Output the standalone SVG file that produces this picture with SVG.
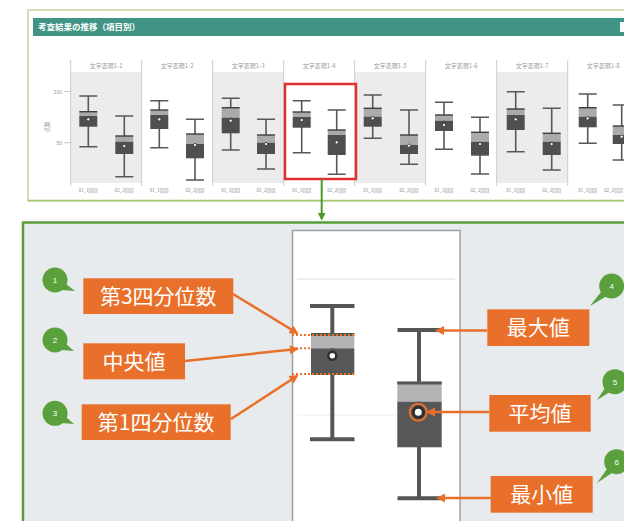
<svg xmlns="http://www.w3.org/2000/svg" width="624" height="521" viewBox="0 0 624 521">
<defs>
<style>
.wh{stroke:#5e5652;stroke-width:1.6;fill:none}
.lt{fill:#aaaaaa}
.dk{fill:#4f4f4f}
.tp{stroke:#3e3e3e;stroke-width:1.4}
.mn{fill:#fff;stroke:#333;stroke-width:0.8}
.hd{font-family:"Noto Sans CJK JP","Liberation Sans",sans-serif;font-size:6px;fill:#9a9a9a;text-anchor:middle}
.xl{font-family:"Noto Sans CJK JP","Liberation Sans",sans-serif;font-size:4.5px;fill:#888;text-anchor:middle}
.lbl{fill:#e8702a}
.lt2{font-family:"Noto Sans CJK JP",sans-serif;font-size:21px;fill:#fff;text-anchor:middle}
.arr{stroke:#e8702a;stroke-width:2.5;fill:none;marker-end:url(#ah)}
.bub{fill:#5aa03c}
.bn{font-family:"Liberation Sans",sans-serif;font-size:8px;fill:#fff;text-anchor:middle}
.bw{stroke:#555;stroke-width:4;fill:none}
.dot{stroke:#e8702a;stroke-width:2;stroke-dasharray:2 2;fill:none}
</style>
<marker id="ah" viewBox="0 0 10 10" refX="8" refY="5" markerWidth="9" markerHeight="9" markerUnits="userSpaceOnUse" orient="auto">
<path d="M0,0 L10,5 L0,10 z" fill="#e8702a"/>
</marker>
<marker id="gh" viewBox="0 0 10 10" refX="8" refY="5" markerWidth="8" markerHeight="8" markerUnits="userSpaceOnUse" orient="auto">
<path d="M0,0 L10,5 L0,10 z" fill="#4a9a2e"/>
</marker>
</defs>
<rect width="624" height="521" fill="#ffffff"/>

<g id="top-panel">
<rect x="28" y="10" width="600" height="191" fill="#ffffff" stroke="#c4d49c" stroke-width="1.5"/>
<line x1="28" y1="200.5" x2="624" y2="200.5" stroke="#a9c878" stroke-width="1.5"/>
<rect x="33" y="18" width="595" height="18" fill="#3f9484"/>
<text x="38" y="30" font-family="Noto Sans CJK JP,sans-serif" font-size="8.5" font-weight="bold" fill="#ffffff">考査結果の推移（項目別）</text>
<rect x="620" y="22" width="6" height="10" fill="#ffffff"/>
<rect x="70.7" y="72" width="71" height="111" fill="#ececec"/>
<rect x="212.7" y="72" width="71" height="111" fill="#ececec"/>
<rect x="354.7" y="72" width="71" height="111" fill="#ececec"/>
<rect x="496.7" y="72" width="71" height="111" fill="#ececec"/>
<g stroke="#cccccc" stroke-width="1">
<line x1="70.7" y1="60" x2="70.7" y2="186"/>
<line x1="141.7" y1="60" x2="141.7" y2="186"/>
<line x1="212.7" y1="60" x2="212.7" y2="186"/>
<line x1="283.7" y1="60" x2="283.7" y2="186"/>
<line x1="354.7" y1="60" x2="354.7" y2="186"/>
<line x1="425.7" y1="60" x2="425.7" y2="186"/>
<line x1="496.7" y1="60" x2="496.7" y2="186"/>
<line x1="567.7" y1="60" x2="567.7" y2="186"/>
</g>
<text class="hd" x="106.2" y="68">文字表現1-1</text>
<text class="hd" x="177.2" y="68">文字表現1-2</text>
<text class="hd" x="248.2" y="68">文字表現1-3</text>
<text class="hd" x="319.2" y="68">文字表現1-4</text>
<text class="hd" x="390.2" y="68">文字表現1-5</text>
<text class="hd" x="461.2" y="68">文字表現1-6</text>
<text class="hd" x="532.2" y="68">文字表現1-7</text>
<text class="hd" x="603.2" y="68">文字表現1-8</text>
<g stroke="#bbbbbb" stroke-width="0.8">
<line x1="64" y1="91.5" x2="70.7" y2="91.5"/>
<line x1="64" y1="142.7" x2="70.7" y2="142.7"/>
</g>
<text x="62" y="93.5" font-family="Liberation Sans,sans-serif" font-size="5" fill="#999" text-anchor="end">100</text>
<text x="62" y="144.5" font-family="Liberation Sans,sans-serif" font-size="5" fill="#999" text-anchor="end">50</text>
<text x="0" y="0" font-family="Noto Sans CJK JP,sans-serif" font-size="5.5" fill="#999" text-anchor="middle" transform="translate(49,127) rotate(-90)">点数</text>
<g>
<text class="xl" x="88.3" y="192">01_1回目</text><text class="xl" x="124.3" y="192">02_2回目</text>
<text class="xl" x="159.3" y="192">01_1回目</text><text class="xl" x="195" y="192">02_2回目</text>
<text class="xl" x="230.7" y="192">01_1回目</text><text class="xl" x="266" y="192">02_2回目</text>
<text class="xl" x="301.7" y="192">01_1回目</text><text class="xl" x="336.7" y="192">02_2回目</text>
<text class="xl" x="372.7" y="192">01_1回目</text><text class="xl" x="409" y="192">02_2回目</text>
<text class="xl" x="444" y="192">01_1回目</text><text class="xl" x="480" y="192">02_2回目</text>
<text class="xl" x="515.7" y="192">01_1回目</text><text class="xl" x="551.7" y="192">02_2回目</text>
<text class="xl" x="587.7" y="192">01_1回目</text><text class="xl" x="623" y="192" style="text-anchor:end">02_2回目</text>
</g>
</g>

<g id="top-boxplots">
<g><path class="wh" d="M88.3,96V146.7M79.3,96H97.3M79.3,146.7H97.3"/><rect class="lt" x="79.3" y="111.7" width="18" height="4.3"/><rect class="dk" x="79.3" y="116" width="18" height="10.7"/><line class="tp" x1="79.3" y1="111.7" x2="97.3" y2="111.7"/><circle class="mn" cx="88.3" cy="119.3" r="1.6"/></g>
<g><path class="wh" d="M124.3,116V176.7M115.3,116H133.3M115.3,176.7H133.3"/><rect class="lt" x="115.3" y="136" width="18" height="5.7"/><rect class="dk" x="115.3" y="141.7" width="18" height="12.3"/><line class="tp" x1="115.3" y1="136" x2="133.3" y2="136"/><circle class="mn" cx="124.3" cy="146" r="1.6"/></g>
<g><path class="wh" d="M159.3,100.7V147.7M150.3,100.7H168.3M150.3,147.7H168.3"/><rect class="lt" x="150.3" y="110" width="18" height="5"/><rect class="dk" x="150.3" y="115" width="18" height="14"/><line class="tp" x1="150.3" y1="110" x2="168.3" y2="110"/><circle class="mn" cx="159.3" cy="119.3" r="1.6"/></g>
<g><path class="wh" d="M195,119.3V180M186,119.3H204M186,180H204"/><rect class="lt" x="186" y="134" width="18" height="10"/><rect class="dk" x="186" y="144" width="18" height="14.3"/><line class="tp" x1="186" y1="134" x2="204" y2="134"/><circle class="mn" cx="195" cy="145" r="1.6"/></g>
<g><path class="wh" d="M230.7,98.3V150M221.7,98.3H239.7M221.7,150H239.7"/><rect class="lt" x="221.7" y="107.7" width="18" height="10"/><rect class="dk" x="221.7" y="117.7" width="18" height="15.6"/><line class="tp" x1="221.7" y1="107.7" x2="239.7" y2="107.7"/><circle class="mn" cx="230.7" cy="120.7" r="1.6"/></g>
<g><path class="wh" d="M266,119.3V169M257,119.3H275M257,169H275"/><rect class="lt" x="257" y="135" width="18" height="7.7"/><rect class="dk" x="257" y="142.7" width="18" height="11.3"/><line class="tp" x1="257" y1="135" x2="275" y2="135"/><circle class="mn" cx="266" cy="144" r="1.6"/></g>
<g><path class="wh" d="M301.7,100.7V152.7M292.7,100.7H310.7M292.7,152.7H310.7"/><rect class="lt" x="292.7" y="112" width="18" height="5"/><rect class="dk" x="292.7" y="117" width="18" height="10.7"/><line class="tp" x1="292.7" y1="112" x2="310.7" y2="112"/><circle class="mn" cx="301.7" cy="120" r="1.6"/></g>
<g><path class="wh" d="M336.7,110V174.3M327.7,110H345.7M327.7,174.3H345.7"/><rect class="lt" x="327.7" y="130" width="18" height="5"/><rect class="dk" x="327.7" y="135" width="18" height="20"/><line class="tp" x1="327.7" y1="130" x2="345.7" y2="130"/><circle class="mn" cx="336.7" cy="142.3" r="1.6"/></g>
<g><path class="wh" d="M372.7,95V138.3M363.7,95H381.7M363.7,138.3H381.7"/><rect class="lt" x="363.7" y="108.3" width="18" height="8.4"/><rect class="dk" x="363.7" y="116.7" width="18" height="10"/><line class="tp" x1="363.7" y1="108.3" x2="381.7" y2="108.3"/><circle class="mn" cx="372.7" cy="118.3" r="1.6"/></g>
<g><path class="wh" d="M409,110V164.3M400,110H418M400,164.3H418"/><rect class="lt" x="400" y="135" width="18" height="10"/><rect class="dk" x="400" y="145" width="18" height="9"/><line class="tp" x1="400" y1="135" x2="418" y2="135"/><circle class="mn" cx="409" cy="145.7" r="1.6"/></g>
<g><path class="wh" d="M444,102.3V149.3M435,102.3H453M435,149.3H453"/><rect class="lt" x="435" y="115" width="18" height="5.7"/><rect class="dk" x="435" y="120.7" width="18" height="10.3"/><line class="tp" x1="435" y1="115" x2="453" y2="115"/><circle class="mn" cx="444" cy="125" r="1.6"/></g>
<g><path class="wh" d="M480,117.3V174M471,117.3H489M471,174H489"/><rect class="lt" x="471" y="132.3" width="18" height="9.4"/><rect class="dk" x="471" y="141.7" width="18" height="14"/><line class="tp" x1="471" y1="132.3" x2="489" y2="132.3"/><circle class="mn" cx="480" cy="144" r="1.6"/></g>
<g><path class="wh" d="M515.7,91.7V151.7M506.7,91.7H524.7M506.7,151.7H524.7"/><rect class="lt" x="506.7" y="109" width="18" height="6"/><rect class="dk" x="506.7" y="115" width="18" height="15"/><line class="tp" x1="506.7" y1="109" x2="524.7" y2="109"/><circle class="mn" cx="515.7" cy="119.3" r="1.6"/></g>
<g><path class="wh" d="M551.7,108.3V170M542.7,108.3H560.7M542.7,170H560.7"/><rect class="lt" x="542.7" y="133.3" width="18" height="8.4"/><rect class="dk" x="542.7" y="141.7" width="18" height="13.3"/><line class="tp" x1="542.7" y1="133.3" x2="560.7" y2="133.3"/><circle class="mn" cx="551.7" cy="144" r="1.6"/></g>
<g><path class="wh" d="M587.7,94V143.3M578.7,94H596.7M578.7,143.3H596.7"/><rect class="lt" x="578.7" y="107.7" width="18" height="9"/><rect class="dk" x="578.7" y="116.7" width="18" height="10.6"/><line class="tp" x1="578.7" y1="107.7" x2="596.7" y2="107.7"/><circle class="mn" cx="587.7" cy="118.3" r="1.6"/></g>
<g><path class="wh" d="M621.7,105V160M612.7,105H630.7M612.7,160H630.7"/><rect class="lt" x="612.7" y="126" width="18" height="9"/><rect class="dk" x="612.7" y="135" width="18" height="9"/><line class="tp" x1="612.7" y1="126" x2="630.7" y2="126"/><circle class="mn" cx="621.7" cy="136.7" r="1.6"/></g>
</g>

<g id="highlight">
<rect x="285" y="84" width="71" height="95" fill="none" stroke="#e03030" stroke-width="2.5"/>
</g>

<g id="bottom-panel">
<rect x="23" y="222.5" width="612" height="310" fill="#e7ebed" stroke="#5a9e3a" stroke-width="2.5"/>
<rect x="292.5" y="230.5" width="167.5" height="292" fill="#ffffff" stroke="#a0a0a0" stroke-width="1.5"/>
<line x1="297" y1="279" x2="455" y2="279" stroke="#dddddd" stroke-width="1.2"/>
<line x1="297" y1="415" x2="455" y2="415" stroke="#eeeeee" stroke-width="1"/>
</g>

<g id="big-box-1">
<path class="bw" d="M332.3,306V439.3M310,306H354.5M310,439.3H354.5"/>
<rect x="311" y="333.3" width="43.3" height="15" fill="#b3b3b3"/>
<rect x="311" y="348.3" width="43.3" height="26.7" fill="#575757"/>
<line x1="311" y1="334.5" x2="354.3" y2="334.5" stroke="#555" stroke-width="3"/>
<circle cx="332.3" cy="355.7" r="4" fill="#fff" stroke="#2f2f2f" stroke-width="2.5"/>
</g>

<g id="big-box-2">
<path class="bw" d="M419,330V498.3M397.5,330H440.5M397.5,498.3H440.5"/>
<rect x="397.3" y="381.7" width="44.4" height="20" fill="#b3b3b3"/>
<rect x="397.3" y="401.7" width="44.4" height="45.6" fill="#575757"/>
<line x1="397.3" y1="383" x2="441.7" y2="383" stroke="#555" stroke-width="3"/>
<circle cx="418.3" cy="412.3" r="8.5" fill="none" stroke="#e8702a" stroke-width="2"/>
<circle cx="418.3" cy="412.3" r="5" fill="#fff" stroke="#2f2f2f" stroke-width="3"/>
</g>

<g id="guides">
<line class="dot" x1="292" y1="335" x2="356" y2="335"/>
<line class="dot" x1="292" y1="348.3" x2="312" y2="348.3"/>
<line class="dot" x1="292" y1="374" x2="356" y2="374"/>
</g>

<g id="label-q3"><rect class="lbl" x="83.3" y="278.3" width="150" height="35.7"/><text class="lt2" x="158.3" y="303.8">第3四分位数</text></g>
<g id="label-median"><rect class="lbl" x="83.3" y="343.3" width="101.7" height="36"/><text class="lt2" x="134" y="369">中央値</text></g>
<g id="label-q1"><rect class="lbl" x="81.7" y="404.3" width="149" height="35.7"/><text class="lt2" x="156.2" y="429.8">第1四分位数</text></g>
<g id="label-max"><rect class="lbl" x="487.3" y="309.3" width="102" height="36.7"/><text class="lt2" x="538.3" y="335.2">最大値</text></g>
<g id="label-mean"><rect class="lbl" x="489.3" y="395" width="101.4" height="36.7"/><text class="lt2" x="540" y="420.8">平均値</text></g>
<g id="label-min"><rect class="lbl" x="490.7" y="476" width="102" height="36.7"/><text class="lt2" x="541.7" y="501.8">最小値</text></g>

<g id="badge-1"><path class="bub" d="M61,290 L75,291 L66,284 z"/><circle class="bub" cx="55" cy="280" r="12.5"/><text class="bn" x="55" y="283">1</text></g>
<g id="badge-2"><path class="bub" d="M61,350 L74,351 L66,344 z"/><circle class="bub" cx="55" cy="340" r="12.5"/><text class="bn" x="55" y="343">2</text></g>
<g id="badge-3"><path class="bub" d="M61,423 L74,424 L66,417 z"/><circle class="bub" cx="55" cy="413.3" r="12.5"/><text class="bn" x="55" y="416.3">3</text></g>
<g id="badge-4"><path class="bub" d="M601,292 L590,306 L607,296 z"/><circle class="bub" cx="611.7" cy="286" r="12.5"/><text class="bn" x="611.7" y="289">4</text></g>
<g id="badge-5"><path class="bub" d="M605,388 L597,400 L610,392 z"/><circle class="bub" cx="615" cy="381.7" r="12.5"/><text class="bn" x="615" y="384.7">5</text></g>
<g id="badge-6"><path class="bub" d="M607,469 L597,483 L612,473 z"/><circle class="bub" cx="616.7" cy="461.7" r="12.5"/><text class="bn" x="616.7" y="464.7">6</text></g>

<g id="connectors">
<line x1="321.7" y1="179" x2="321.7" y2="219" stroke="#4a9a2e" stroke-width="2" marker-end="url(#gh)"/>
<line class="arr" x1="233" y1="294" x2="297" y2="333"/>
<line class="arr" x1="185" y1="361" x2="297" y2="349"/>
<line class="arr" x1="231" y1="419" x2="297" y2="376"/>
<line class="arr" x1="487" y1="330.5" x2="437" y2="330.5"/>
<line class="arr" x1="489" y1="412" x2="428" y2="412"/>
<line class="arr" x1="491" y1="498" x2="438" y2="498"/>
</g>
</svg>
